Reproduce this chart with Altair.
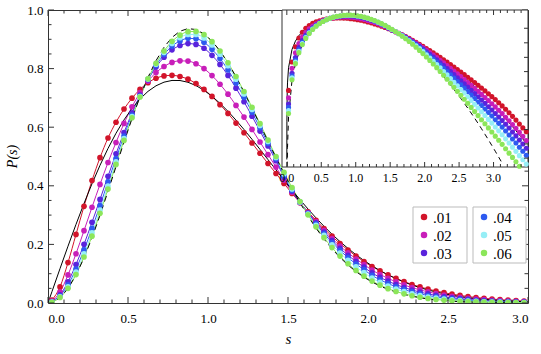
import altair as alt
import pandas as pd

# ---------------- data ----------------
s_pts = [0.025, 0.075, 0.125, 0.175, 0.225, 0.275, 0.325, 0.375, 0.425, 0.475,
         0.525, 0.575, 0.625, 0.675, 0.725, 0.775, 0.825, 0.875, 0.925, 0.975,
         1.025, 1.075, 1.125, 1.175, 1.225, 1.275, 1.325, 1.375, 1.425, 1.475,
         1.525, 1.575, 1.625, 1.675, 1.725, 1.775, 1.825, 1.875, 1.925, 1.975,
         2.025, 2.075, 2.125, 2.175, 2.225, 2.275, 2.325, 2.375, 2.425, 2.475,
         2.525, 2.575, 2.625, 2.675, 2.725, 2.775, 2.825, 2.875, 2.925, 2.975,
         3.025, 3.075, 3.125, 3.175, 3.225, 3.275, 3.325, 3.375, 3.425, 3.475]

p01 = [0.010, 0.055, 0.138, 0.234, 0.330, 0.418, 0.496, 0.563, 0.617, 0.662,
       0.699, 0.729, 0.752, 0.767, 0.775, 0.777, 0.773, 0.764, 0.749, 0.729,
       0.705, 0.677, 0.647, 0.614, 0.581, 0.546, 0.511, 0.476, 0.442, 0.408,
       0.374, 0.342, 0.311, 0.282, 0.254, 0.228, 0.203, 0.181, 0.160, 0.141,
       0.1245, 0.1096, 0.0962, 0.0840, 0.0730, 0.0632, 0.0549, 0.0475, 0.0410, 0.0352,
       0.0302, 0.0259, 0.0221, 0.0188, 0.0160, 0.0136, 0.0115, 0.00973, 0.00820, 0.00690,
       0.00576, 0.00478, 0.00394, 0.00322, 0.00262, 0.00210, 0.00168, 0.00133, 0.00105, 0.00083]

p02 = [0.0064, 0.0377, 0.0958, 0.1682, 0.2470, 0.3268, 0.4048, 0.4795, 0.5479,
       0.6128, 0.6695, 0.7181, 0.7572, 0.7864, 0.8073, 0.8211, 0.8266, 0.8256, 0.8166, 0.8001,
       0.7761, 0.7465, 0.7127, 0.6744, 0.6346, 0.5924, 0.5494, 0.5064, 0.4640,
       0.4194, 0.3780, 0.3428, 0.3090, 0.2776, 0.2478, 0.2202, 0.1944, 0.1716, 0.1502, 0.1311,
       0.1125, 0.0974, 0.0841, 0.0722, 0.0616, 0.0524, 0.0447, 0.0379, 0.0321, 0.0271,
       0.0229, 0.0193, 0.0161, 0.0135, 0.0113, 0.00945, 0.00787, 0.00655, 0.00544, 0.00450,
       0.00371, 0.00304, 0.00248, 0.00200, 0.00161, 0.00128, 0.00102, 0.000801, 0.000629, 0.000494]

p03 = [0.0044, 0.0280, 0.0720, 0.1312, 0.2002, 0.2755, 0.3535, 0.4325, 0.5090,
       0.5817, 0.6487, 0.7095, 0.7618, 0.8053, 0.8388, 0.8640, 0.8788, 0.8855, 0.8825, 0.8693,
       0.8453, 0.8143, 0.7768, 0.7333, 0.6868, 0.6375, 0.5868, 0.5360, 0.4855,
       0.4293, 0.3816, 0.3435, 0.3072, 0.2736, 0.2422, 0.2132, 0.1867, 0.1631, 0.1414, 0.1222,
       0.1026, 0.0876, 0.0744, 0.0629, 0.0529, 0.0443, 0.0371, 0.0310, 0.0258, 0.0214,
       0.0178, 0.0148, 0.0122, 0.0100, 0.00825, 0.00681, 0.00559, 0.00459, 0.00375, 0.00307,
       0.00250, 0.00203, 0.00164, 0.00131, 0.00104, 0.000822, 0.000648, 0.000507, 0.000397, 0.000310]

p04 = [0.0036, 0.0240, 0.0623, 0.1162, 0.1812, 0.2546, 0.3326, 0.4134, 0.4932,
       0.5700, 0.6414, 0.7066, 0.7632, 0.8109, 0.8481, 0.8768, 0.8943, 0.9033, 0.9021, 0.8898,
       0.8658, 0.8344, 0.7958, 0.7507, 0.7023, 0.6509, 0.5979, 0.5448, 0.4919,
       0.4346, 0.3850, 0.3442, 0.3055, 0.2699, 0.2370, 0.2066, 0.1794, 0.1552, 0.1331, 0.1138,
       0.0941, 0.0793, 0.0664, 0.0553, 0.0458, 0.0378, 0.0312, 0.0256, 0.0210, 0.0171,
       0.0140, 0.0115, 0.00932, 0.00757, 0.00613, 0.00499, 0.00404, 0.00328, 0.00265, 0.00214,
       0.00172, 0.00138, 0.00110, 0.000873, 0.000688, 0.000540, 0.000423, 0.000329, 0.000257, 0.000202]

p05 = [0.0030, 0.0212, 0.0553, 0.1052, 0.1674, 0.2394, 0.3174, 0.3994, 0.4816,
       0.5614, 0.6360, 0.7046, 0.7642, 0.8149, 0.8549, 0.8860, 0.9055, 0.9163, 0.9163, 0.9048,
       0.8808, 0.8490, 0.8096, 0.7635, 0.7135, 0.6607, 0.6059, 0.5512, 0.4965,
       0.4403, 0.3890, 0.3450, 0.3035, 0.2655, 0.2308, 0.1988, 0.1708, 0.1458, 0.1233, 0.1039,
       0.0850, 0.0705, 0.0580, 0.0475, 0.0387, 0.0313, 0.0254, 0.0204, 0.0164, 0.0132,
       0.0106, 0.00854, 0.00681, 0.00544, 0.00433, 0.00347, 0.00277, 0.00221, 0.00175, 0.00140,
       0.00111, 0.000879, 0.000695, 0.000543, 0.000423, 0.000330, 0.000256, 0.000198, 0.000154, 0.000119]

p06 = [0.0025, 0.019, 0.050, 0.097, 0.157, 0.228, 0.306, 0.389, 0.473, 0.555,
       0.632, 0.703, 0.765, 0.818, 0.860, 0.893, 0.914, 0.926, 0.927, 0.916,
       0.892, 0.860, 0.820, 0.773, 0.722, 0.668, 0.612, 0.556, 0.500, 0.446,
       0.394, 0.346, 0.301, 0.260, 0.223, 0.189, 0.160, 0.134, 0.111, 0.0915,
       0.0749, 0.0608, 0.0490, 0.0393, 0.0313, 0.0248, 0.0196, 0.0154, 0.0121, 0.0095,
       0.0075, 0.0059, 0.0046, 0.0036, 0.0028, 0.0022, 0.00172, 0.00135, 0.00105, 0.00082,
       0.00064, 0.00050, 0.00039, 0.00030, 0.00023, 0.000178, 0.000137, 0.000105, 0.000081, 0.000062]

s_curve = [0.0, 0.0001, 0.001, 0.0056, 0.01] + s_pts
goe = [0.0, 0.000157, 0.00157, 0.0088, 0.0157,
       0.03925, 0.11729, 0.19395, 0.26836, 0.33965, 0.40706, 0.46987, 0.52745, 0.57930, 0.62497,
       0.66415, 0.69667, 0.72237, 0.74131, 0.75369, 0.75955, 0.75933, 0.75334, 0.74201, 0.72589,
       0.70550, 0.68134, 0.65402, 0.62409, 0.59211, 0.55867, 0.52422, 0.48927, 0.45430, 0.41959,
       0.38560, 0.35257, 0.32086, 0.29053, 0.26181, 0.23477, 0.20953, 0.18623, 0.16468, 0.14494,
       0.12701, 0.11076, 0.09620, 0.08316, 0.07158, 0.06132, 0.05230, 0.04443, 0.03758, 0.03163,
       0.02652, 0.02214, 0.01839, 0.01522, 0.01255, 0.01030, 0.00841, 0.00685, 0.00554, 0.00448,
       0.00360, 0.00288, 0.00229, 0.00182, 0.00144, 0.00113, 0.000887, 0.000691, 0.000537, 0.000415]
gue = [0.0, 3.2e-8, 3.24e-6, 1.02e-4, 3.24e-4,
       0.002025, 0.018108, 0.049663, 0.095498, 0.15390, 0.22269, 0.29937, 0.38120, 0.46531, 0.54888,
       0.62915, 0.70365, 0.77021, 0.82702, 0.87272, 0.90644, 0.92769, 0.93643, 0.93329, 0.91874,
       0.89405, 0.86036, 0.81907, 0.77182, 0.71989, 0.66527, 0.60897, 0.55211, 0.49631, 0.44200,
       0.39029, 0.34174, 0.29675, 0.25553, 0.21823, 0.18490, 0.15540, 0.12960, 0.10728, 0.08810,
       0.07181, 0.05808, 0.04662, 0.03715, 0.02937, 0.02306, 0.01797, 0.01390, 0.01068, 0.00814,
       0.00616, 0.00463, 0.00346, 0.00256, 0.00189, 0.00138, 0.00100, 0.000719, 0.000515, 0.000366,
       0.000258, 0.000181, 0.000126, 0.000087, 0.0000597, 0.0000407, 0.0000276, 0.0000185, 0.0000124, 0.0000082]

labels = [".01", ".02", ".03", ".04", ".05", ".06"]
colors = ["#D2142A", "#C81EB9", "#5A23DC", "#2D5AF0", "#96EEF6", "#8CE65A"]

main_xmajor = [0.0, 0.5, 1.0, 1.5, 2.0, 2.5, 3.0]
main_xminor = [0.1, 0.2, 0.3, 0.4, 0.6, 0.7, 0.8, 0.9, 1.1, 1.2, 1.3, 1.4, 1.6, 1.7, 1.8, 1.9,
               2.1, 2.2, 2.3, 2.4, 2.6, 2.7, 2.8, 2.9]
main_ymajor = [0.0, 0.2, 0.4, 0.6, 0.8, 1.0]
main_yminor = [0.05, 0.1, 0.15, 0.25, 0.3, 0.35, 0.45, 0.5, 0.55, 0.65, 0.7, 0.75, 0.85, 0.9, 0.95]
inset_xmajor = [0.0, 0.5, 1.0, 1.5, 2.0, 2.5, 3.0]
inset_xminor = [0.1, 0.2, 0.3, 0.4, 0.6, 0.7, 0.8, 0.9, 1.1, 1.2, 1.3, 1.4, 1.6, 1.7, 1.8, 1.9,
                2.1, 2.2, 2.3, 2.4, 2.6, 2.7, 2.8, 2.9, 3.1, 3.2, 3.3, 3.4]
inset_yticks = [0.42, 0.175, 0.073, 0.031, 0.013, 0.0054, 0.0023, 0.00095, 0.0004, 0.00017]

# ---------------- tables ----------------
rows = []
for lab, vals in zip(labels, [p01, p02, p03, p04, p05, p06]):
    for s, v in zip(s_pts, vals):
        rows.append({"s": s, "P": v, "g": lab})
df = pd.DataFrame(rows)
main_df = df[df.s <= 3.0]
inset_df = df[df.P >= 1e-4]
curves = pd.DataFrame({"s": s_curve, "goe": goe, "gue": gue})
inset_goe = curves[curves.goe >= 1e-4]
inset_gue = curves[curves.gue >= 1e-4]
one = pd.DataFrame({"a": [0]})

FONT = "serif"
TICK = "#333333"
W, H = 480, 293
# inset box in plot-area pixels
IX0, IX1, IY0, IY1 = 234, 480, 0, 157

xs = alt.Scale(domain=[0, 3], nice=False, zero=False)
ys = alt.Scale(domain=[0, 1], nice=False, zero=False)
cs = alt.Scale(domain=labels, range=colors)

# ---------------- main plot ----------------
xaxis = alt.Axis(values=main_xmajor, format=".1f", tickSize=0, domain=False, grid=False,
                 labelFont=FONT, labelFontSize=13, labelColor="black", labelPadding=9,
                 title="s", titleFont=FONT, titleFontSize=15, titleFontStyle="italic",
                 titleFontWeight="normal", titleColor="black", titleX=240, titleY=35,
                 titleBaseline="middle")
yaxis = alt.Axis(values=main_ymajor, format=".1f", tickSize=0, domain=False, grid=False,
                 labelFont=FONT, labelFontSize=13, labelColor="black", labelPadding=5,
                 title="P(s)", titleFont=FONT, titleFontSize=14, titleFontStyle="italic",
                 titleFontWeight="normal", titleColor="black", titleX=-36, titleY=146,
                 titleAngle=-90, titleBaseline="middle", titleAlign="center")

lines = alt.Chart(main_df).mark_line(strokeWidth=1, clip=True, interpolate="monotone").encode(
    x=alt.X("s:Q", scale=xs, axis=xaxis),
    y=alt.Y("P:Q", scale=ys, axis=yaxis),
    color=alt.Color("g:N", scale=cs, legend=None),
)
pts = alt.Chart(main_df).mark_circle(size=32, opacity=1, clip=True).encode(
    x="s:Q", y="P:Q", color=alt.Color("g:N", scale=cs, legend=None),
)
goe_line = alt.Chart(curves).mark_line(color="black", strokeWidth=1, clip=True).encode(
    x="s:Q", y=alt.Y("goe:Q", title="P(s)"))
gue_line = alt.Chart(curves).mark_line(color="black", strokeWidth=1, strokeDash=[6, 4], clip=True).encode(
    x="s:Q", y=alt.Y("gue:Q", title="P(s)"))


def xticks(vals, y0, y1):
    return alt.Chart(pd.DataFrame({"s": vals})).mark_rule(color=TICK, strokeWidth=1).encode(
        x="s:Q", y=alt.value(y0), y2=alt.value(y1))


def yticks(vals, x0, x1):
    return alt.Chart(pd.DataFrame({"P": vals})).mark_rule(color=TICK, strokeWidth=1).encode(
        y="P:Q", x=alt.value(x0), x2=alt.value(x1))


main_ticks = [
    xticks(main_xmajor, H, H - 6), xticks(main_xminor, H, H - 3.5),
    xticks(main_xmajor, 0, 6), xticks(main_xminor, 0, 3.5),
    yticks(main_ymajor, 0, 6), yticks(main_yminor, 0, 3.5),
    yticks(main_ymajor, W, W - 6), yticks(main_yminor, W, W - 3.5),
]

main = alt.layer(lines, goe_line, gue_line, pts, *main_ticks)

# ---------------- inset ----------------
ixs = alt.Scale(domain=[-0.07, 3.5], range=[IX0, IX1], nice=False, zero=False)
iys = alt.Scale(type="log", domain=[1e-4, 1.259], range=[IY1, IY0], nice=False)

frame = alt.Chart(one).mark_rect(fill="white", stroke=TICK, strokeWidth=1).encode(
    x=alt.value(IX0), x2=alt.value(IX1), y=alt.value(IY0), y2=alt.value(IY1))
i_goe = alt.Chart(inset_goe).mark_line(color="black", strokeWidth=1).encode(
    x=alt.X("s:Q", scale=ixs, axis=None), y=alt.Y("goe:Q", scale=iys, axis=None))
i_gue = alt.Chart(inset_gue).mark_line(color="black", strokeWidth=1, strokeDash=[5, 4]).encode(
    x=alt.X("s:Q", scale=ixs, axis=None), y=alt.Y("gue:Q", scale=iys, axis=None))
i_pts = alt.Chart(inset_df).mark_circle(size=26, opacity=1).encode(
    x=alt.X("s:Q", scale=ixs, axis=None), y=alt.Y("P:Q", scale=iys, axis=None),
    color=alt.Color("g:N", scale=cs, legend=None))


def ixticks(vals, y0, y1):
    return alt.Chart(pd.DataFrame({"s": vals})).mark_rule(color=TICK, strokeWidth=1).encode(
        x=alt.X("s:Q", scale=ixs, axis=None), y=alt.value(y0), y2=alt.value(y1))


i_yt = alt.Chart(pd.DataFrame({"P": inset_yticks})).mark_rule(color=TICK, strokeWidth=1).encode(
    y=alt.Y("P:Q", scale=iys, axis=None), x=alt.value(IX1), x2=alt.value(IX1 - 4))
i_lab = alt.Chart(pd.DataFrame({"s": inset_xmajor, "lab": [f"{v:.1f}" for v in inset_xmajor]})).mark_text(
    font=FONT, fontSize=12, color="black", baseline="middle").encode(
    x=alt.X("s:Q", scale=ixs, axis=None), y=alt.value(IY1 + 11), text="lab:N")

inset = alt.layer(frame, i_goe, i_gue, i_pts,
                  ixticks(inset_xmajor, IY1, IY1 - 5), ixticks(inset_xminor, IY1, IY1 - 3),
                  ixticks(inset_xmajor, IY0, IY0 + 5), ixticks(inset_xminor, IY0, IY0 + 3),
                  i_yt, i_lab)

# ---------------- legend (manual, two framed columns) ----------------
leg_layers = []
boxes = [(365, 419), (425, 478)]
for bx0, bx1 in boxes:
    leg_layers.append(alt.Chart(one).mark_rect(fill="white", stroke="#BBBBBB", strokeWidth=1).encode(
        x=alt.value(bx0), x2=alt.value(bx1), y=alt.value(197), y2=alt.value(253)))
for i, (lab, col) in enumerate(zip(labels, colors)):
    bx0 = boxes[i // 3][0]
    yy = 207 + 18 * (i % 3)
    leg_layers.append(alt.Chart(one).mark_circle(size=42, color=col, opacity=1).encode(
        x=alt.value(bx0 + 11), y=alt.value(yy)))
    leg_layers.append(alt.Chart(one).mark_text(text=lab, font=FONT, fontSize=15, color="black",
                                               align="left", baseline="middle").encode(
        x=alt.value(bx0 + 20), y=alt.value(yy + 1)))

chart = alt.layer(main, inset, *leg_layers).resolve_scale(x="independent", y="independent").properties(
    width=W, height=H,
    autosize=alt.AutoSizeParams(type="none"),
    padding={"left": 48, "top": 10, "right": 13, "bottom": 51},
).configure(font=FONT).configure_view(stroke=TICK, strokeWidth=1)

chart.save("out.html", embed_options={"renderer": "svg", "actions": False})
